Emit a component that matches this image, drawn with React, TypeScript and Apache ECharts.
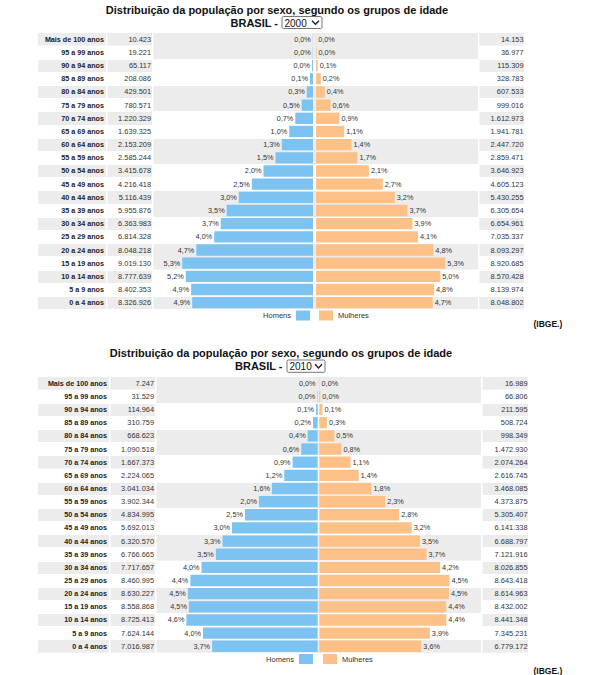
import React, { useEffect, useRef } from 'react';
import * as echarts from 'echarts';

// ---------- data ----------
const ageGroups = [
  'Mais de 100 anos', '95 a 99 anos', '90 a 94 anos', '85 a 89 anos', '80 a 84 anos',
  '75 a 79 anos', '70 a 74 anos', '65 a 69 anos', '60 a 64 anos', '55 a 59 anos',
  '50 a 54 anos', '45 a 49 anos', '40 a 44 anos', '35 a 39 anos', '30 a 34 anos',
  '25 a 29 anos', '20 a 24 anos', '15 a 19 anos', '10 a 14 anos', '5 a 9 anos', '0 a 4 anos',
];

const men2000 = [10423, 19221, 65117, 208086, 429501, 780571, 1220329, 1639325, 2153209, 2585244, 3415678, 4216418, 5116439, 5955876, 6363983, 6814328, 8048218, 9019130, 8777639, 8402353, 8326926];
const women2000 = [14153, 36977, 115309, 328783, 607533, 999016, 1612973, 1941781, 2447720, 2859471, 3646923, 4605123, 5430255, 6305654, 6654961, 7035337, 8093297, 8920685, 8570428, 8139974, 8048802];
const menPct2000 = [0.0, 0.0, 0.0, 0.1, 0.3, 0.5, 0.7, 1.0, 1.3, 1.5, 2.0, 2.5, 3.0, 3.5, 3.7, 4.0, 4.7, 5.3, 5.2, 4.9, 4.9];
const womenPct2000 = [0.0, 0.0, 0.1, 0.2, 0.4, 0.6, 0.9, 1.1, 1.4, 1.7, 2.1, 2.7, 3.2, 3.7, 3.9, 4.1, 4.8, 5.3, 5.0, 4.8, 4.7];

const men2010 = [7247, 31529, 114964, 310759, 668623, 1090518, 1667373, 2224065, 3041034, 3902344, 4834995, 5692013, 6320570, 6766665, 7717657, 8460995, 8630227, 8558868, 8725413, 7624144, 7016987];
const women2010 = [16989, 66806, 211595, 508724, 998349, 1472930, 2074264, 2616745, 3468085, 4373875, 5305407, 6141338, 6688797, 7121916, 8026855, 8643418, 8614963, 8432002, 8441348, 7345231, 6779172];
const menPct2010 = [0.0, 0.0, 0.1, 0.2, 0.4, 0.6, 0.9, 1.2, 1.6, 2.0, 2.5, 3.0, 3.3, 3.5, 4.0, 4.4, 4.5, 4.5, 4.6, 4.0, 3.7];
const womenPct2010 = [0.0, 0.0, 0.1, 0.3, 0.5, 0.8, 1.1, 1.4, 1.8, 2.3, 2.8, 3.2, 3.5, 3.7, 4.2, 4.5, 4.5, 4.4, 4.4, 3.9, 3.6];

const years = ['2000', '2010'];
const seriesNames = ['Homens', 'Mulheres'];
const titleText = 'Distribuição da população por sexo, segundo os grupos de idade';
const regionText = 'BRASIL -';
const sourceText = '(IBGE.)';

// ---------- styles / layout ----------
const FONT = '"Liberation Sans", Arial, Helvetica, sans-serif';
const BLUE = '#7cc3f2';
const ORANGE = '#fdc086';
const ROW_GRAY = '#ececec';
const AXIS_MAX = 10000000;

const layouts = [
  {
    top: 32.7, rowH: 13.17, titleX: 277, titleY: 9.5, regionRight: 278, regionY: 22.5,
    box: [282, 16.5, 40, 12], chevronX: 315.5,
    cols: { label: [38, 106], num: [107.5, 152], chart: [153.5, 478], right: [479.5, 524] },
    center: [313, 316], barSpan: 145,
    legendY: 310.5, homensRight: 310, mulheresLeft: 319, sourceY: 323.5,
  },
  {
    top: 376.7, rowH: 13.15, titleX: 281, titleY: 352.8, regionRight: 282.5, regionY: 365.8,
    box: [287, 360, 38, 12.3], chevronX: 318.5,
    cols: { label: [38, 109], num: [110.5, 155], chart: [156.5, 481], right: [482.5, 528] },
    center: [317.7, 319.3], barSpan: 150.5,
    legendY: 654, homensRight: 313, mulheresLeft: 323, sourceY: 671,
  },
];

const fmtInt = (n: number) => String(n).replace(/\B(?=(\d{3})+(?!\d))/g, '.');
const fmtPct = (v: number) => v.toFixed(1).replace('.', ',') + '%';

function buildOption() {
  const sets = [
    { men: men2000, women: women2000, menPct: menPct2000, womenPct: womenPct2000 },
    { men: men2010, women: women2010, menPct: menPct2010, womenPct: womenPct2010 },
  ];
  const grid: any[] = [];
  const xAxis: any[] = [];
  const yAxis: any[] = [];
  const series: any[] = [];
  const legend: any[] = [];
  const elements: any[] = [];

  sets.forEach((d, k) => {
    const L = layouts[k];
    const height = L.rowH * ageGroups.length;
    const addGrid = (left: number, width: number) => {
      grid.push({ left, top: L.top, width, height, containLabel: false });
      return grid.length - 1;
    };
    const addColumn = (range: number[], label: any) => {
      const gi = addGrid(range[0], range[1] - range[0]);
      xAxis.push({ type: 'value', gridIndex: gi, show: false });
      yAxis.push({
        type: 'category', gridIndex: gi, inverse: true, data: ageGroups, position: 'right',
        axisLine: { show: false }, axisTick: { show: false },
        splitArea: { show: true, areaStyle: { color: [ROW_GRAY, '#ffffff'] } },
        splitLine: { show: true, lineStyle: { color: '#ffffff', width: 1 } },
        axisLabel: label,
      });
    };
    addColumn(L.cols.label, {
      show: true, inside: true, margin: 2, interval: 0,
      fontSize: 7.2, fontWeight: 'bold', color: '#222', fontFamily: FONT,
    });
    addColumn(L.cols.num, {
      show: true, inside: true, margin: 1, interval: 0,
      fontSize: 7.4, color: '#333', fontFamily: FONT,
      formatter: (_v: string, i: number) => fmtInt(d.men[i]),
    });
    addColumn(L.cols.chart, { show: false });
    addColumn(L.cols.right, {
      show: true, inside: true, margin: 0.5, interval: 0,
      fontSize: 7.4, color: '#333', fontFamily: FONT,
      formatter: (_v: string, i: number) => fmtInt(d.women[i]),
    });

    // bar grids
    const sides = [
      { left: L.center[0] - L.barSpan, inverse: true, data: d.men, pct: d.menPct, color: BLUE, pos: 'left', name: seriesNames[0] },
      { left: L.center[1], inverse: false, data: d.women, pct: d.womenPct, color: ORANGE, pos: 'right', name: seriesNames[1] },
    ];
    sides.forEach((s) => {
      const gi = addGrid(s.left, L.barSpan);
      xAxis.push({ type: 'value', gridIndex: gi, inverse: s.inverse, min: 0, max: AXIS_MAX, show: false });
      yAxis.push({ type: 'category', gridIndex: gi, inverse: true, data: ageGroups, show: false });
      series.push({
        type: 'bar', name: s.name, xAxisIndex: xAxis.length - 1, yAxisIndex: yAxis.length - 1,
        data: s.data, barWidth: '86%', silent: true,
        itemStyle: { color: s.color },
        label: {
          show: true, position: s.pos, distance: 2, fontSize: 7.3, color: '#333', fontFamily: FONT,
          formatter: (p: any) => fmtPct(s.pct[p.dataIndex]),
        },
      });
    });

    legend.push({
      data: [seriesNames[0]], right: 606 - L.homensRight, top: L.legendY, align: 'right',
      itemWidth: 14, itemHeight: 10, padding: 0, icon: 'rect', selectedMode: false,
      textStyle: { fontSize: 7.5, color: '#333', fontFamily: FONT },
    });
    legend.push({
      data: [seriesNames[1]], left: L.mulheresLeft, top: L.legendY, align: 'left',
      itemWidth: 14, itemHeight: 10, padding: 0, icon: 'rect', selectedMode: false,
      textStyle: { fontSize: 7.5, color: '#333', fontFamily: FONT },
    });

    // header texts and select box
    elements.push({
      type: 'text', x: L.titleX, y: L.titleY,
      style: { text: titleText, fontSize: 11, fontWeight: 'bold', fontFamily: FONT, fill: '#111', textAlign: 'center', textVerticalAlign: 'middle', align: 'center', verticalAlign: 'middle' },
    });
    elements.push({
      type: 'text', x: L.regionRight, y: L.regionY,
      style: { text: regionText, fontSize: 11, fontWeight: 'bold', fontFamily: FONT, fill: '#111', textAlign: 'right', textVerticalAlign: 'middle', align: 'right', verticalAlign: 'middle' },
    });
    const [bx, by, bw, bh] = L.box;
    elements.push({
      type: 'rect', shape: { x: bx, y: by, width: bw, height: bh, r: 1.5 },
      style: { fill: '#ffffff', stroke: '#767676', lineWidth: 1 },
    });
    elements.push({
      type: 'text', x: bx + 2.5, y: by + bh / 2 + 0.5,
      style: { text: years[k], fontSize: 10, fontFamily: FONT, fill: '#111', textAlign: 'left', textVerticalAlign: 'middle', align: 'left', verticalAlign: 'middle' },
    });
    const cy = by + bh / 2;
    elements.push({
      type: 'polyline',
      shape: { points: [[L.chevronX - 3.5, cy - 1.8], [L.chevronX, cy + 1.8], [L.chevronX + 3.5, cy - 1.8]] },
      style: { stroke: '#222', lineWidth: 1.4, fill: 'none' },
    });
    elements.push({
      type: 'text', x: 533.5, y: L.sourceY,
      style: { text: sourceText, fontSize: 8.5, fontWeight: 'bold', fontFamily: FONT, fill: '#111', textAlign: 'left', textVerticalAlign: 'middle', align: 'left', verticalAlign: 'middle' },
    });
  });

  return {
    animation: false,
    backgroundColor: '#ffffff',
    textStyle: { fontFamily: FONT },
    grid, xAxis, yAxis, series, legend,
    graphic: { elements },
  };
}

export default function App() {
  const ref = useRef<HTMLDivElement>(null);
  useEffect(() => {
    if (!ref.current) return;
    const chart = echarts.init(ref.current, null, { renderer: 'svg' });
    chart.setOption(buildOption() as any);
    return () => chart.dispose();
  }, []);
  return <div ref={ref} style={{ position: 'absolute', left: 0, top: 0, width: 606, height: 675 }} />;
}
